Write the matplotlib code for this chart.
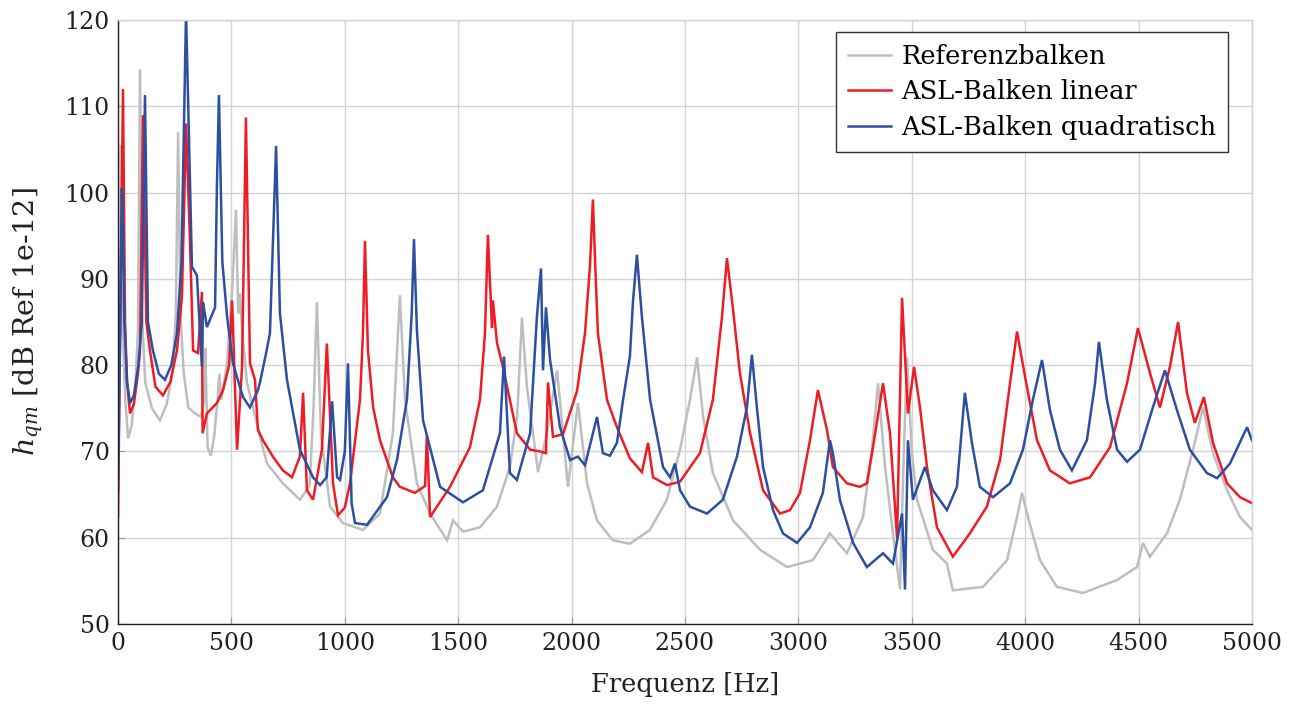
import matplotlib
matplotlib.use("Agg")
import matplotlib.pyplot as plt

# ---------------- data ----------------
ref_f = [0, 8, 13, 20, 32, 45, 60, 75, 88, 97, 106, 120, 150, 185, 215, 240, 255, 265,
         275, 290, 310, 335, 365, 380, 385, 395, 410, 425, 440, 447, 455, 480, 505, 520,
         530, 538, 548, 569, 595, 626, 657, 727, 802, 845, 862, 877, 895, 935, 992, 1080,
         1155, 1212, 1243, 1265, 1318, 1376, 1451, 1477, 1521, 1596, 1671, 1728, 1760,
         1781, 1803, 1852, 1891, 1936, 1962, 1984, 2028, 2068, 2112, 2182, 2257, 2345,
         2420, 2478, 2522, 2553, 2580, 2623, 2712, 2831, 2950, 3064, 3139, 3214, 3285,
         3324, 3351, 3382, 3417, 3448, 3465, 3479, 3500, 3523, 3593, 3655, 3681, 3814,
         3920, 3964, 3986, 4012, 4065, 4140, 4255, 4405, 4493, 4519, 4550, 4625, 4682,
         4740, 4784, 4828, 4890, 4947, 5000]
ref_db = [73, 88, 105.5, 85, 76, 71.5, 73, 77, 84, 114.3, 86, 78, 75, 73.6, 75.5, 79,
          86, 107, 86, 79, 75.1, 74.5, 74, 76, 82, 70.5, 69.5, 72, 76.3, 79, 76, 80, 89.5,
          98, 86, 88.3, 83.7, 77.9, 75.1, 71.7, 68.6, 66.3, 64.4, 66, 75, 87.3, 72, 63.6,
          61.7, 60.9, 62.8, 72.1, 88.1, 76, 66.3, 62.8, 59.7, 62, 60.7, 61.2, 63.6, 68.2,
          74, 85.5, 77.5, 67.6, 72.1, 79.4, 72.1, 65.9, 75.6, 66.3, 62, 59.7, 59.3, 60.9,
          64.4, 70.2, 76, 80.9, 74, 67.5, 62, 58.6, 56.6, 57.4, 60.5, 58.2, 62.4, 70.2,
          77.9, 68.2, 60.5, 54, 70, 80.9, 70, 64.4, 58.6, 57, 53.9, 54.3, 57.4, 62.4, 65.2,
          62.4, 57.4, 54.3, 53.6, 55.1, 56.6, 59.4, 57.8, 60.5, 64.4, 70.2, 75.1, 69.8,
          65.5, 62.4, 60.9]

lin_f = [0, 10, 22, 31, 40, 53, 70, 88, 97, 110, 125, 141, 165, 198, 230, 260, 282,
         300, 318, 331, 353, 370, 373, 392, 436, 463, 490, 503, 525, 547, 564, 582, 604,
         617, 639, 683, 727, 767, 802, 816, 833, 860, 899, 921, 948, 970, 1000, 1023,
         1067, 1080, 1089, 1102, 1125, 1155, 1212, 1243, 1309, 1354, 1362, 1376, 1464,
         1552, 1596, 1618, 1631, 1649, 1653, 1671, 1697, 1759, 1817, 1861, 1887, 1896,
         1918, 1962, 2024, 2059, 2081, 2094, 2105, 2116, 2156, 2200, 2257, 2310, 2337,
         2359, 2421, 2478, 2566, 2623, 2663, 2685, 2712, 2742, 2787, 2844, 2919, 2963,
         3007, 3051, 3086, 3126, 3152, 3214, 3271, 3302, 3329, 3373, 3404, 3435, 3457,
         3483, 3510, 3536, 3567, 3611, 3681, 3756, 3831, 3889, 3933, 3964, 3999, 4052,
         4109, 4197, 4286, 4374, 4449, 4497, 4550, 4594, 4638, 4674, 4713, 4748, 4788,
         4828, 4890, 4947, 5000]
lin_db = [62.4, 85, 112, 85, 78, 74.4, 75.5, 79, 81.7, 109, 85, 81.7, 77.5, 76.5, 78,
          81.7, 88, 108, 93.9, 81.7, 81.4, 88.5, 72.1, 74.4, 75.6, 77.1, 80, 87.5, 70.2,
          79.8, 108.7, 80.2, 78.3, 72.5, 71.3, 69.4, 67.8, 67, 69.4, 76.8, 65.5, 64.4,
          70.2, 82.5, 66.3, 62.6, 63.5, 66.3, 76, 83.7, 94.4, 81.7, 75.1, 71.3, 67, 65.9,
          65.2, 66, 71.9, 62.4, 65.9, 70.5, 76, 83.7, 95.1, 84.3, 87.5, 82.6, 79.8, 72.1,
          70.2, 70, 69.8, 78, 71.7, 72, 77, 83.7, 91.5, 99.2, 91, 83.7, 76, 72.8, 69.2,
          67.6, 71, 67, 66.1, 66.5, 69.8, 76, 85.6, 92.4, 86.4, 79.1, 72.1, 65.5, 62.8,
          63.2, 65.2, 71.3, 77.1, 72.5, 68.2, 66.3, 65.9, 66.3, 70.5, 77.9, 72.1, 60, 87.8,
          74.4, 79.8, 75.1, 68.2, 61.2, 57.8, 60.5, 63.6, 69, 77.9, 83.9, 78.7, 71.3, 67.8,
          66.3, 67, 70.5, 77.9, 84.3, 79.1, 75.1, 79.8, 85, 76.8, 73.3, 76.3, 71, 66.3,
          64.7, 64]

quad_f = [0, 10, 17, 22, 28, 40, 53, 70, 90, 105, 119, 132, 154, 180, 207, 235, 260,
          280, 300, 326, 348, 370, 375, 392, 428, 436, 445, 460, 481, 507, 551, 582, 617,
          626, 650, 670, 697, 714, 745, 802, 860, 891, 920, 944, 966, 979, 1000, 1014,
          1030, 1045, 1098, 1186, 1230, 1274, 1295, 1305, 1318, 1345, 1420, 1521, 1609,
          1684, 1702, 1728, 1759, 1817, 1847, 1865, 1874, 1887, 1905, 1949, 1993, 2028,
          2059, 2112, 2138, 2169, 2200, 2227, 2257, 2271, 2288, 2310, 2346, 2403, 2434,
          2456, 2478, 2522, 2597, 2667, 2729, 2773, 2795, 2817, 2844, 2888, 2932, 2994,
          3051, 3108, 3139, 3152, 3183, 3241, 3302, 3373, 3417, 3457, 3470, 3483, 3505,
          3558, 3593, 3655, 3699, 3734, 3765, 3800, 3858, 3933, 3990, 4034, 4074, 4109,
          4153, 4206, 4272, 4308, 4325, 4360, 4405, 4449, 4506, 4563, 4616, 4669, 4726,
          4801, 4846, 4903, 4978, 5000]
quad_db = [65.5, 85, 100.5, 96, 85, 78, 75.6, 76.5, 80, 85, 111.3, 85, 81.7, 79, 78.3,
           80, 83.7, 92, 121, 91.4, 90.4, 79.8, 87.3, 84.4, 86.7, 100.6, 111.3, 92,
           85.6, 80.2, 76.3, 75.1, 77.1, 78, 81, 83.7, 105.4, 86, 78.3, 70.2, 67, 66.1,
           67, 75.8, 67, 66.7, 70, 80.2, 64, 61.7, 61.5, 64.7, 69, 76, 86, 94.6, 84, 73.6,
           65.9, 64.1, 65.5, 72.1, 81, 67.5, 66.7, 72.1, 85.6, 91.2, 79.4, 86.7, 80.6,
           72.8, 69, 69.4, 68.4, 74, 69.8, 69.5, 71, 76, 81, 87.5, 92.8, 85.6, 76, 68.2,
           67, 68.6, 65.5, 63.6, 62.8, 64.4, 69.4, 75.1, 81.2, 75.1, 68.2, 63.2, 60.5,
           59.4, 61.2, 65.2, 71.3, 69.8, 64.4, 59.4, 56.6, 58.2, 57, 62.8, 54, 71.3, 64.4,
           68.2, 65.5, 63.2, 65.9, 76.8, 71, 65.9, 64.7, 66.3, 70.2, 76, 80.6, 74.8, 70.2,
           67.8, 71.3, 77.9, 82.7, 76, 70.2, 68.8, 70.2, 75.1, 79.4, 74.8, 70.2, 67.5,
           66.9, 68.6, 72.8, 71.3]

labels = ["Referenzbalken", "ASL-Balken linear", "ASL-Balken quadratisch"]
colors = ["#bdbec0", "#ee1d25", "#2d4fa2"]
x_ticks = [0, 500, 1000, 1500, 2000, 2500, 3000, 3500, 4000, 4500, 5000]
y_ticks = [50, 60, 70, 80, 90, 100, 110, 120]

# ---------------- figure ----------------
plt.rcParams["font.family"] = ["DejaVu Serif"]
plt.rcParams["mathtext.fontset"] = "dejavuserif"

fig = plt.figure(figsize=(12.99, 7.04), dpi=100)
ax = fig.add_axes([118 / 1299, 1 - 624 / 704, (1252 - 118) / 1299, (624 - 20) / 704])

for fx, dbx, c, lab in zip([ref_f, lin_f, quad_f], [ref_db, lin_db, quad_db], colors, labels):
    ax.plot(fx, dbx, color=c, lw=1.8, label=lab, solid_joinstyle="miter")

ax.set_xlim(0, 5000)
ax.set_ylim(50, 120)
ax.set_xticks(x_ticks)
ax.set_yticks(y_ticks)
ax.grid(True, color="#d4d4d4", lw=1.0)
ax.set_axisbelow(True)
ax.tick_params(direction="in", length=5, color="#999999", labelsize=17,
               labelcolor="#222222", pad=6)
for s in ["top", "right"]:
    ax.spines[s].set_color("#d4d4d4")
    ax.spines[s].set_linewidth(1.0)
for s in ["left", "bottom"]:
    ax.spines[s].set_color("#222222")
    ax.spines[s].set_linewidth(1.0)

ax.set_xlabel("Frequenz [Hz]", fontsize=18.5, color="#222222", labelpad=12)
ax.set_ylabel(r"$h_{qm}$ [dB Ref 1e-12]", fontsize=20.5, color="#222222", labelpad=14)

leg = ax.legend(loc="upper right", bbox_to_anchor=(0.979, 0.980), fontsize=18.5,
                frameon=True, fancybox=False, edgecolor="#333333", framealpha=1,
                handlelength=1.7, handletextpad=0.4, borderpad=0.45, labelspacing=0.42,
                borderaxespad=0)
leg.get_frame().set_linewidth(1.0)

fig.savefig("out.png", dpi=100)
